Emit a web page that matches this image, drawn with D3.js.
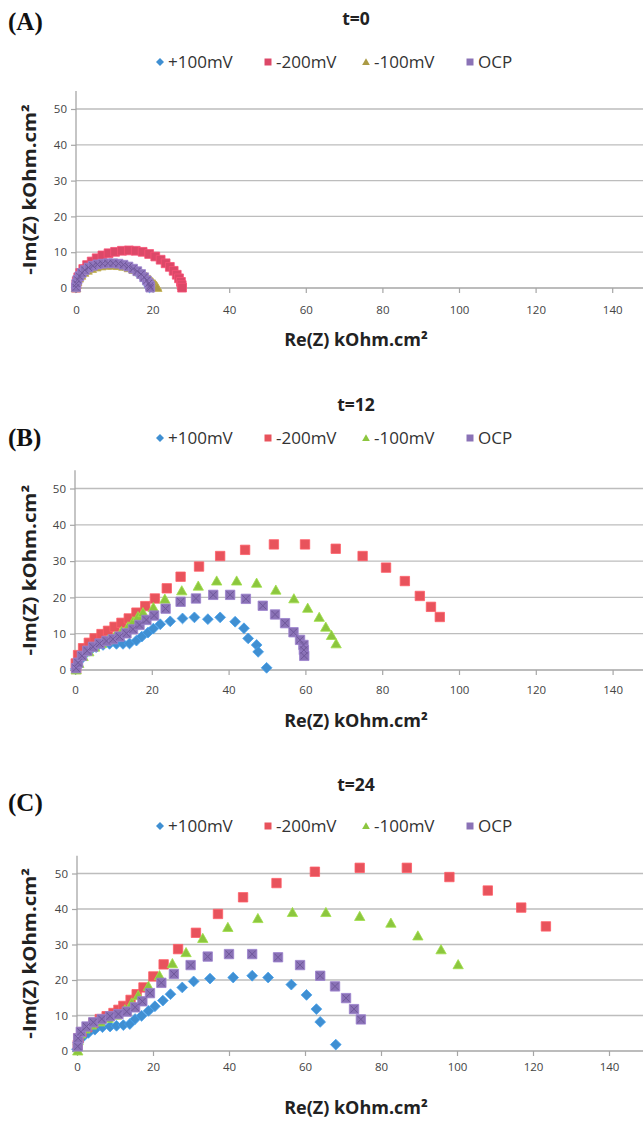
<!DOCTYPE html>
<html>
<head>
<meta charset="utf-8">
<script src="https://cdn.jsdelivr.net/npm/d3@7/dist/d3.min.js"></script>
<style>
  html, body { margin: 0; padding: 0; background: #ffffff; }
  svg { display: block; }
</style>
</head>
<body>
<script>
// Nyquist plots of impedance at three immersion times, four polarisation conditions each.

const seriesNames = ["+100mV", "-200mV", "-100mV", "OCP"];
const panelTitles = ["t=0", "t=12", "t=24"];
const panelLetters = ["(A)", "(B)", "(C)"];
const xTicks = [0, 20, 40, 60, 80, 100, 120, 140];
const yTicks = [0, 10, 20, 30, 40, 50];
const xLabel = "Re(Z) kOhm.cm²";
const yLabel = "-Im(Z) kOhm.cm²";

// t = 0  : [Re(Z), -Im(Z)] in kOhm.cm²
const t0_p100 = [[0,0],[0.1,1.1],[0.3,2.1],[0.8,3.1],[1.4,3.9],[2.2,4.7],[3.1,5.3],[4.2,5.9],[5.4,6.3],[6.7,6.6],[8.0,6.7],[9.4,6.7],[10.8,6.6],[12.1,6.3],[13.4,5.9],[14.6,5.3],[15.7,4.6],[16.7,3.8],[17.5,3.0],[18.2,2.1],[18.7,1.3],[19.0,0.6],[19.2,0.1]];
const t0_m200 = [[0,0.1],[0.1,1.0],[0.2,1.9],[0.6,3.0],[1.1,4.2],[1.9,5.3],[2.9,6.4],[4.1,7.4],[5.4,8.3],[6.9,9.1],[8.5,9.7],[10.2,10.1],[12.0,10.4],[13.8,10.5],[15.6,10.4],[17.4,10.1],[19.1,9.5],[20.7,8.8],[22.1,7.9],[23.4,6.9],[24.5,5.9],[25.5,4.8],[26.3,3.7],[26.9,2.7],[27.4,1.7],[27.6,0.8],[27.7,0.1]];
const t0_m100 = [[0,0],[0.1,0.9],[0.3,1.8],[0.7,2.7],[1.3,3.5],[2.1,4.3],[3.0,4.9],[4.1,5.4],[5.3,5.8],[6.6,6.1],[8.0,6.3],[9.5,6.3],[11.0,6.2],[12.4,6.0],[13.8,5.6],[15.1,5.1],[16.3,4.5],[17.4,3.8],[18.4,3.1],[19.3,2.3],[20.0,1.6],[20.6,1.0],[21.0,0.5],[21.2,0.1]];
const t0_ocp = [[0,0.2],[0.1,1.2],[0.4,2.3],[0.9,3.3],[1.5,4.2],[2.3,5.0],[3.3,5.7],[4.4,6.2],[5.6,6.6],[6.9,6.8],[8.3,6.9],[9.7,6.9],[11.1,6.8],[12.4,6.5],[13.7,6.0],[14.9,5.4],[16.0,4.7],[17.0,3.9],[17.8,3.0],[18.5,2.1],[19.0,1.3],[19.3,0.6],[19.4,0.1]];

// t = 12
const t12_p100 = [[0.2,0.3],[0.6,0.9],[1.2,2.6],[2.3,4.1],[3.8,5.3],[5.5,6.3],[7.3,6.9],[9.0,7.2],[10.8,7.2],[12.5,7.2],[14.2,7.3],[16.0,8.1],[17.4,9.2],[19.0,10.3],[20.4,11.4],[22.2,12.6],[24.8,13.4],[28.0,14.2],[31.1,14.5],[34.6,14.0],[37.8,14.5],[41.7,13.3],[44.0,11.5],[45.1,8.7],[47.3,6.9],[47.7,5.0],[49.9,0.6]];
const t12_m200 = [[0.3,0.3],[0.2,1.8],[0.8,4.1],[2.1,6.0],[3.6,7.5],[5.1,8.7],[6.9,9.9],[8.6,10.8],[10.3,11.9],[12.1,13.0],[14.0,14.2],[16.0,15.8],[18.3,17.6],[20.8,19.7],[23.9,22.5],[27.5,25.7],[32.3,28.5],[37.8,31.4],[44.3,33.1],[51.8,34.6],[59.9,34.6],[67.9,33.4],[74.9,31.4],[81.0,28.2],[85.9,24.5],[89.8,20.4],[92.7,17.4],[95.0,14.6]];
const t12_m100 = [[0.3,0],[1.0,1.8],[2.1,3.7],[3.6,5.0],[5.1,6.3],[6.9,7.3],[8.6,8.3],[10.3,9.2],[12.1,10.6],[13.8,11.9],[15.1,13.3],[16.4,14.7],[17.7,15.8],[20.4,17.2],[23.4,19.5],[27.8,21.8],[32.1,23.1],[36.9,24.5],[42.1,24.5],[47.3,23.9],[52.3,22.0],[57.0,19.6],[60.6,17.0],[63.6,14.5],[65.3,11.8],[66.8,9.5],[68.0,7.2]];
const t12_ocp = [[0.3,0.5],[0.8,2.0],[1.8,3.9],[3.2,5.3],[4.7,6.4],[6.4,7.3],[8.2,8.0],[9.9,8.5],[11.6,9.2],[13.4,10.1],[15.1,11.2],[16.8,12.4],[18.6,13.8],[20.6,15.0],[23.6,16.9],[27.5,18.8],[31.5,19.7],[36.0,20.7],[40.4,20.7],[44.5,19.6],[48.9,17.7],[52.1,15.3],[54.7,12.9],[56.9,10.4],[58.6,8.3],[59.5,6.9],[59.6,5.5],[59.7,3.9]];

// t = 24
const t24_p100 = [[0,0.5],[0.3,2.3],[1.5,3.9],[3.0,5.1],[4.7,6.0],[6.7,6.7],[8.7,6.9],[10.4,7.1],[12.2,7.3],[13.9,7.6],[15.3,9.0],[17.0,9.9],[18.8,11.3],[20.5,12.6],[22.6,14.2],[24.6,16.0],[27.7,17.9],[30.7,19.6],[35.0,20.4],[41.1,20.7],[46.1,21.2],[50.3,20.7],[56.4,18.7],[60.4,15.8],[63.0,11.8],[64.0,8.2],[68.1,1.8]];
const t24_m200 = [[0.2,1.7],[0.4,3.6],[1.2,5.3],[2.7,6.7],[4.3,7.9],[6.0,9.0],[7.8,9.8],[9.6,10.7],[10.9,11.6],[12.2,12.7],[14.1,14.4],[15.7,16.0],[17.5,17.9],[20.1,21.0],[22.8,24.4],[26.6,28.7],[31.3,33.3],[37.1,38.6],[43.7,43.3],[52.5,47.3],[62.6,50.5],[74.4,51.6],[86.8,51.6],[98.0,49.0],[108.1,45.2],[116.9,40.4],[123.4,35.1]];
const t24_m100 = [[0.2,0],[0.3,2.9],[0.9,4.8],[2.1,6.2],[3.8,7.3],[6.0,8.2],[8.2,9.2],[10.4,10.1],[12.6,11.6],[14.4,13.5],[16.1,15.6],[18.8,18.2],[21.7,21.2],[25.1,24.6],[28.7,27.7],[33.1,31.7],[39.7,34.8],[47.6,37.3],[56.7,39.0],[65.5,39.0],[74.4,37.9],[82.6,36.0],[89.7,32.4],[95.8,28.5],[100.3,24.3]];
const t24_ocp = [[0.2,1.3],[0.3,3.6],[1.0,5.4],[2.5,6.9],[4.3,8.1],[6.5,9.0],[8.7,9.8],[10.9,10.4],[13.1,11.1],[15.3,12.3],[17.2,14.0],[19.2,16.3],[22.2,19.2],[25.5,21.7],[29.9,24.2],[34.4,26.6],[40.0,27.3],[46.1,27.3],[52.9,26.4],[58.7,24.2],[64.0,21.2],[67.9,18.2],[70.8,14.9],[72.9,11.8],[74.7,8.9]];

const panelData = [
  [t0_p100, t0_m200, t0_m100, t0_ocp],
  [t12_p100, t12_m200, t12_m100, t12_ocp],
  [t24_p100, t24_m200, t24_m100, t24_ocp]
];

// ---- drawing setup ----
const W = 643, H = 1124;
const shapes = ["diamond", "square", "triangle", "square"];
const panelColors = [
  ["#3f8fd2", "#dc4868", "#aa9a45", "#8a72b6"],
  ["#3f8fd2", "#e8535c", "#8cc63f", "#8a72b6"],
  ["#3f8fd2", "#e8535c", "#8cc63f", "#8a72b6"]
];
const layout = [
  { x0: 76, xUnit: 3.83, yZero: 288, yUnit: 3.58, titleY: 25, letterY: 30, legendY: 62, tickY: 314, xTitleY: 346, ms: 4.4 },
  { x0: 75, xUnit: 3.84, yZero: 670, yUnit: 3.63, titleY: 411, letterY: 446, legendY: 438, tickY: 694, xTitleY: 727, ms: 4.7 },
  { x0: 77, xUnit: 3.80, yZero: 1051, yUnit: 3.55, titleY: 791, letterY: 811, legendY: 826, tickY: 1071, xTitleY: 1114, ms: 4.7 }
];

const svg = d3.select("body").append("svg")
  .attr("width", W).attr("height", H)
  .attr("viewBox", `0 0 ${W} ${H}`);
svg.append("rect").attr("width", W).attr("height", H).attr("fill", "#fff");

function markerPath(shape, r) {
  if (shape === "diamond") return `M0,${-r * 1.15}L${r * 1.15},0L0,${r * 1.15}L${-r * 1.15},0Z`;
  if (shape === "triangle") return `M0,${-r * 1.1}L${r * 1.1},${r * 0.85}L${-r * 1.1},${r * 0.85}Z`;
  return `M${-r},${-r}H${r}V${r}H${-r}Z`;
}

const textFont = "'Open Sans', 'Liberation Sans', sans-serif";

layout.forEach((L, pi) => {
  const x = d3.scaleLinear().domain([0, 150]).range([L.x0, L.x0 + 150 * L.xUnit]);
  const y = d3.scaleLinear().domain([0, 55]).range([L.yZero, L.yZero - 55 * L.yUnit]);
  const g = svg.append("g");

  // horizontal gridlines
  g.append("g").selectAll("line").data(yTicks.filter(v => v > 0)).join("line")
    .attr("x1", x(0)).attr("x2", W)
    .attr("y1", d => y(d)).attr("y2", d => y(d))
    .attr("stroke", "#bdbdbd").attr("stroke-width", 1.3);

  // y axis
  const yAxis = d3.axisLeft(y).tickValues(yTicks).tickSize(5).tickPadding(4);
  const ya = g.append("g").attr("transform", `translate(${x(0)},0)`).call(yAxis);
  ya.select(".domain").attr("stroke", "#a6a6a6").attr("stroke-width", 1.3).attr("d", `M-0,${y(55)}V${y(0)}`);
  ya.selectAll(".tick line").attr("stroke", "#a6a6a6").attr("stroke-width", 1.2);
  ya.selectAll(".tick text").attr("font-family", textFont).attr("font-size", 11.5).attr("fill", "#444");

  // x axis along zero
  const xAxis = d3.axisBottom(x).tickValues(xTicks).tickSize(5).tickPadding(0);
  const xa = g.append("g").attr("transform", `translate(0,${y(0)})`).call(xAxis);
  xa.select(".domain").attr("stroke", "#a6a6a6").attr("stroke-width", 1.3).attr("d", `M${x(0)},0H${W}`);
  xa.selectAll(".tick line").attr("stroke", "#a6a6a6").attr("stroke-width", 1.2);
  xa.selectAll(".tick text").attr("font-family", textFont).attr("font-size", 11.5).attr("fill", "#444")
    .attr("dy", null).attr("y", L.tickY - L.yZero);

  // markers, series drawn in legend order
  panelData[pi].forEach((pts, si) => {
    const col = panelColors[pi][si];
    const sg = g.append("g");
    sg.selectAll("path").data(pts).join("path")
      .attr("transform", d => `translate(${x(d[0])},${y(d[1])})`)
      .attr("d", markerPath(shapes[si], L.ms))
      .attr("fill", col)
      .attr("stroke", d3.color(col).brighter(0.35))
      .attr("stroke-width", 0.8);
    if (si === 3) {
      // OCP markers carry a faint cross
      const r = L.ms * 0.75;
      sg.selectAll("path.x").data(pts).join("path").attr("class", "x")
        .attr("transform", d => `translate(${x(d[0])},${y(d[1])})`)
        .attr("d", `M${-r},${-r}L${r},${r}M${r},${-r}L${-r},${r}`)
        .attr("stroke", "#6f579a").attr("stroke-width", 1).attr("fill", "none");
    }
  });

  // panel letter
  svg.append("text").attr("x", 8).attr("y", L.letterY)
    .attr("font-family", "'Liberation Serif', 'Times New Roman', serif")
    .attr("font-weight", "bold").attr("font-size", 25).attr("fill", "#111")
    .text(panelLetters[pi]);

  // title
  svg.append("text").attr("x", 356).attr("y", L.titleY).attr("text-anchor", "middle")
    .attr("font-family", textFont).attr("font-weight", "bold").attr("font-size", 17.5).attr("fill", "#222")
    .text(panelTitles[pi]);

  // legend
  const legendX = [160, 268, 366, 470];
  const lg = svg.append("g").attr("transform", `translate(0,${L.legendY})`);
  seriesNames.forEach((name, si) => {
    lg.append("path").attr("transform", `translate(${legendX[si]},0)`)
      .attr("d", markerPath(shapes[si], 3.5)).attr("fill", panelColors[pi][si]);
    lg.append("text").attr("x", legendX[si] + 8).attr("y", 6)
      .attr("font-family", textFont).attr("font-size", 17).attr("fill", "#333")
      .text(name);
  });

  // axis titles
  svg.append("text").attr("x", 356).attr("y", L.xTitleY).attr("text-anchor", "middle")
    .attr("font-family", textFont).attr("font-weight", "bold").attr("font-size", 18).attr("fill", "#222")
    .text(xLabel);
  const yc = (y(0) + y(55)) / 2;
  svg.append("text").attr("transform", `translate(30,${yc}) rotate(-90) scale(1.2,1)`).attr("text-anchor", "middle")
    .attr("dy", "0.35em")
    .attr("font-family", textFont).attr("font-weight", "bold").attr("font-size", 17).attr("fill", "#222")
    .text(yLabel);
});
</script>
</body>
</html>
